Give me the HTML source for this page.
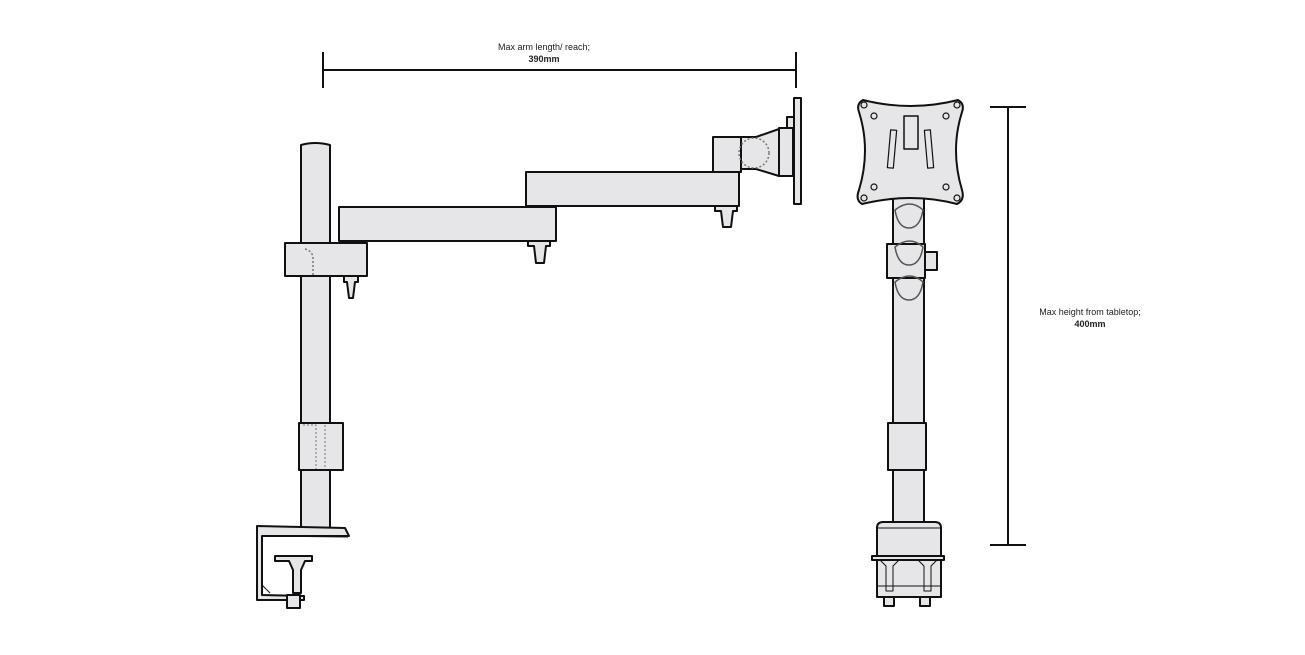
<!DOCTYPE html>
<html><head><style>body{margin:0;background:#fff}svg{display:block}</style></head><body>
<svg width="1305" height="655" viewBox="0 0 1305 655" xmlns="http://www.w3.org/2000/svg" font-family="Liberation Sans, sans-serif">
<g stroke="#111" stroke-width="2" fill="#e6e6e8" stroke-linejoin="round">
<!-- left pole -->
<path d="M301 528 V145 Q315 141 330 145 V528 Z"/>
<!-- arms -->
<rect x="526" y="172" width="213" height="34"/>
<rect x="339" y="207" width="217" height="34"/>
<rect x="713" y="137" width="28" height="35"/>
<polygon points="741,137 756,137 779,129 779,176 756,169 741,169"/>
<rect x="779" y="128" width="14" height="48"/>
<rect x="787" y="117" width="7" height="11"/>
<rect x="794" y="98" width="7" height="106"/>
<circle cx="754" cy="153" r="15" fill="none" stroke="#777" stroke-width="1.5" stroke-dasharray="2,2"/>
<!-- knobs -->
<path d="M344 276 h14 v6 h-3 l-2 16 h-4 l-2 -16 h-3z"/>
<path d="M528 241 h22 v5 h-4 l-2 17 h-8 l-2 -17 h-6z"/>
<path d="M715 206 h22 v5 h-4 l-2 16 h-8 l-2 -16 h-6z"/>
<!-- collar -->
<rect x="285" y="243" width="82" height="33"/>
<path d="M305 249 q8 2 8 10 v16" fill="none" stroke="#777" stroke-width="1.5" stroke-dasharray="2,2"/>
<!-- lower collar -->
<rect x="299" y="423" width="44" height="47"/>
<path d="M303 425 h13 v44 M325 425 v44" fill="none" stroke="#777" stroke-width="1" stroke-dasharray="2,2"/>
<!-- clamp -->
<path d="M257 526 L345 528 L349 536 L262 536 L262 595 L304 596 L304 600 L257 600 Z"/>
<path d="M262 536 L348 537" fill="none" stroke-width="1"/>
<path d="M262 585 l8 8" fill="none" stroke-width="1"/>
<path d="M275 556 h37 v5 h-7 l-4 9 v23 h-8 v-23 l-4 -9 h-14z"/>
<rect x="287" y="595" width="13" height="13"/>
<!-- right view column -->
<rect x="893" y="195" width="31" height="330"/>
<rect x="887" y="244" width="38" height="34"/>
<rect x="925" y="252" width="12" height="18"/>
<rect x="888" y="423" width="38" height="47"/>
<path d="M895 210 q15 -12 28 0 q-3 18 -14 18 q-11 0 -14 -18z" fill="none" stroke="#555" stroke-width="1.5"/>
<path d="M895 247 q15 -12 28 0 q-3 18 -14 18 q-11 0 -14 -18z" fill="none" stroke="#555" stroke-width="1.5"/>
<path d="M895 282 q15 -12 28 0 q-3 18 -14 18 q-11 0 -14 -18z" fill="none" stroke="#555" stroke-width="1.5"/>
<!-- vesa plate -->
<path d="M863 100 Q911 112 958 100 Q965 104 962 112 Q950 150 962 190 Q965 200 957 204 Q911 192 862 204 Q855 200 859 190 Q871 150 859 112 Q856 104 863 100 Z"/>
<rect x="904" y="116" width="14" height="33" fill="#e6e6e8" stroke-width="1.5"/>
<rect x="889" y="130" width="6" height="38" transform="rotate(5 892 149)" stroke-width="1.2"/>
<rect x="926" y="130" width="6" height="38" transform="rotate(-5 929 149)" stroke-width="1.2"/>
<g fill="none" stroke-width="1.2"><circle cx="864" cy="105" r="3"/><circle cx="957" cy="105" r="3"/><circle cx="864" cy="198" r="3"/><circle cx="957" cy="198" r="3"/><circle cx="874" cy="116" r="3"/><circle cx="946" cy="116" r="3"/><circle cx="874" cy="187" r="3"/><circle cx="946" cy="187" r="3"/></g>
<!-- base -->
<path d="M877 528 q0 -6 6 -6 h52 q6 0 6 6 v69 h-64z"/>
<line x1="877" y1="528" x2="941" y2="528" stroke-width="1"/>
<rect x="872" y="556" width="72" height="4"/>
<path d="M880 560 l6 6 v25 h7 v-25 l6 -6 M918 560 l6 6 v25 h7 v-25 l6 -6 M877 586 h64" fill="none" stroke-width="1"/>
<rect x="884" y="597" width="10" height="9"/>
<rect x="920" y="597" width="10" height="9"/>
</g>
<!-- dimensions -->
<g stroke="#111" stroke-width="2" fill="none">
<path d="M323 52 V88 M796 52 V88 M323 70 H796"/>
<path d="M990 107 H1026 M990 545 H1026 M1008 107 V545"/>
</g>
<g font-size="9" fill="#222" text-anchor="middle">
<text x="544" y="50">Max arm length/ reach;</text>
<text x="544" y="62" font-weight="bold">390mm</text>
<text x="1090" y="315">Max height from tabletop;</text>
<text x="1090" y="327" font-weight="bold">400mm</text>
</g>
</svg>
</body></html>
